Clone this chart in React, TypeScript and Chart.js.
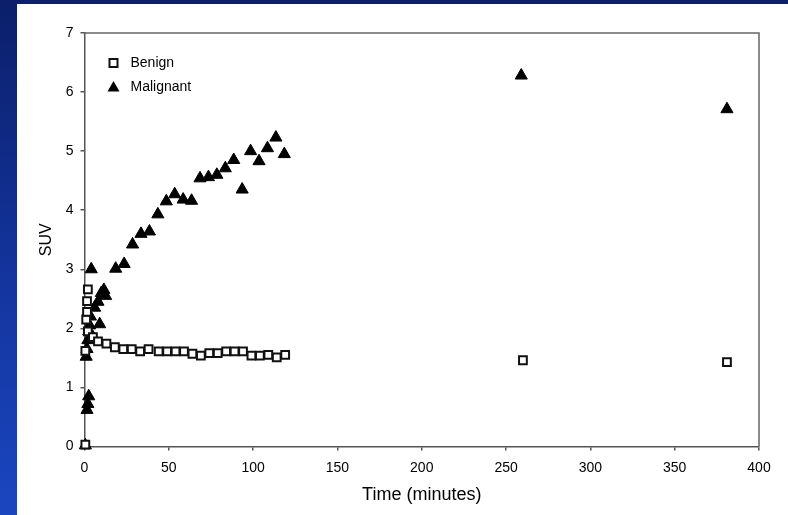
import React, { useEffect, useRef } from "react";
import { Chart, registerables } from "chart.js";

Chart.register(...registerables);

const xTicks = [0, 50, 100, 150, 200, 250, 300, 350, 400];
const yTicks = [0, 1, 2, 3, 4, 5, 6, 7];

const benignX = [0.5, 0.5, 1, 1.5, 1.5, 2, 2, 5, 8, 13, 18, 23, 28, 33, 38, 44, 49, 54, 59, 64, 69, 74, 79, 84, 89, 94, 99, 104, 109, 114, 119, 260, 381];
const benignY = [0.03, 1.62, 2.15, 2.28, 2.46, 2.66, 1.95, 1.85, 1.78, 1.74, 1.68, 1.65, 1.65, 1.61, 1.65, 1.61, 1.61, 1.61, 1.61, 1.57, 1.54, 1.58, 1.58, 1.61, 1.61, 1.61, 1.54, 1.54, 1.55, 1.51, 1.55, 1.46, 1.43];

const malignantX = [0.5, 1.5, 2, 2.5, 1, 1.5, 2, 2.5, 3, 3.5, 4, 5, 6, 8, 9, 10, 11.5, 12.5, 18.5, 23.5, 28.5, 33.5, 38.5, 43.5, 48.5, 53.5, 58.5, 63.5, 68.5, 73.5, 78.5, 83.5, 88.5, 93.5, 98.5, 103.5, 108.5, 113.5, 118.5, 259, 381];
const malignantY = [0.02, 0.62, 0.72, 0.85, 1.52, 1.65, 1.8, 1.95, 2.05, 2.2, 3.0, 1.85, 2.35, 2.45, 2.07, 2.6, 2.65, 2.55, 3.01, 3.09, 3.42, 3.6, 3.64, 3.93, 4.15, 4.27, 4.18, 4.16, 4.54, 4.56, 4.6, 4.71, 4.85, 4.35, 5.0, 4.83, 5.05, 5.23, 4.95, 6.28, 5.71];

const seriesNames = ["Benign", "Malignant"];
const xTitle = "Time (minutes)";
const yTitle = "SUV";

const FONT = "'Liberation Sans', Arial, Helvetica, sans-serif";

const boxPlugin = {
  id: "boxPlugin",
  afterDraw(chart: any) {
    const { ctx, chartArea } = chart;
    ctx.save();
    ctx.strokeStyle = "#666";
    ctx.lineWidth = 1.5;
    ctx.beginPath();
    ctx.moveTo(chartArea.left, chartArea.top);
    ctx.lineTo(chartArea.right, chartArea.top);
    ctx.lineTo(chartArea.right, chartArea.bottom);
    ctx.stroke();
    ctx.restore();
  },
};

const insideLegend = {
  id: "insideLegend",
  afterDraw(chart: any) {
    const { ctx, chartArea } = chart;
    const mx = chartArea.left + 29;
    const y1 = chartArea.top + 30;
    const y2 = chartArea.top + 54;
    const tx = chartArea.left + 46;
    ctx.save();
    ctx.strokeStyle = "#111";
    ctx.fillStyle = "#fff";
    ctx.lineWidth = 2;
    ctx.fillRect(mx - 4, y1 - 4, 8, 8);
    ctx.strokeRect(mx - 4, y1 - 4, 8, 8);
    ctx.fillStyle = "#000";
    ctx.beginPath();
    ctx.moveTo(mx, y2 - 6);
    ctx.lineTo(mx + 6, y2 + 4.5);
    ctx.lineTo(mx - 6, y2 + 4.5);
    ctx.closePath();
    ctx.fill();
    ctx.fillStyle = "#000";
    ctx.font = `14px ${FONT}`;
    ctx.textAlign = "left";
    ctx.textBaseline = "middle";
    ctx.fillText(seriesNames[0], tx, y1);
    ctx.fillText(seriesNames[1], tx, y2);
    ctx.restore();
  },
};

export default function App() {
  const ref = useRef<HTMLCanvasElement | null>(null);

  useEffect(() => {
    document.body.style.margin = "0";
    const canvas = ref.current;
    if (!canvas) return;
    const chart = new Chart(canvas, {
      type: "scatter",
      data: {
        datasets: [
          {
            label: seriesNames[0],
            data: benignX.map((x, i) => ({ x, y: benignY[i] })),
            pointStyle: "rect",
            pointRadius: 5.5,
            pointHoverRadius: 5.5,
            backgroundColor: "#fff",
            borderColor: "#111",
            borderWidth: 2,
            clip: false as any,
          },
          {
            label: seriesNames[1],
            data: malignantX.map((x, i) => ({ x, y: malignantY[i] })),
            pointStyle: "triangle",
            pointRadius: 7,
            pointHoverRadius: 7,
            backgroundColor: "#000",
            borderColor: "#000",
            borderWidth: 1,
            clip: false as any,
          },
        ],
      },
      options: {
        animation: false,
        responsive: false,
        maintainAspectRatio: false,
        layout: { padding: { left: 0, top: 29, right: 29, bottom: 0 } },
        plugins: {
          legend: { display: false },
          tooltip: { enabled: false },
        },
        scales: {
          x: {
            type: "linear",
            min: 0,
            max: 400,
            afterBuildTicks: (s: any) => {
              s.ticks = xTicks.map((v) => ({ value: v }));
            },
            afterFit: (s: any) => {
              s.height = 68.5;
            },
            ticks: {
              color: "#000",
              font: { family: FONT, size: 14 },
              padding: 9,
              maxRotation: 0,
            },
            grid: {
              display: true,
              drawOnChartArea: false,
              drawTicks: true,
              tickLength: 4,
              color: "#555",
              lineWidth: 1.5,
            },
            border: { display: true, color: "#555", width: 1.5 },
            title: {
              display: true,
              text: xTitle,
              color: "#000",
              font: { family: FONT, size: 18 },
              padding: { top: 0, bottom: 9 },
            },
          },
          y: {
            type: "linear",
            min: 0,
            max: 7,
            afterBuildTicks: (s: any) => {
              s.ticks = yTicks.map((v) => ({ value: v }));
            },
            afterFit: (s: any) => {
              s.width = 67.5;
            },
            ticks: {
              color: "#000",
              font: { family: FONT, size: 14 },
              padding: 7,
            },
            grid: {
              display: true,
              drawOnChartArea: false,
              drawTicks: true,
              tickLength: 4,
              color: "#555",
              lineWidth: 1.5,
            },
            border: { display: true, color: "#555", width: 1.5 },
            title: {
              display: true,
              text: yTitle,
              color: "#000",
              font: { family: FONT, size: 16 },
              padding: { top: 20, bottom: 0 },
            },
          },
        },
      },
      plugins: [boxPlugin, insideLegend],
    });
    return () => chart.destroy();
  }, []);

  return (
    <div
      style={{
        position: "relative",
        width: 788,
        height: 515,
        overflow: "hidden",
        background: "linear-gradient(to bottom, #0b1f6a 0%, #13339a 50%, #1a46c0 100%)",
      }}
    >
      <div
        style={{
          position: "absolute",
          left: 17,
          top: 4,
          width: 771,
          height: 511,
          background: "#fff",
        }}
      >
        <canvas ref={ref} width={771} height={511} style={{ display: "block", width: 771, height: 511 }} />
      </div>
    </div>
  );
}
